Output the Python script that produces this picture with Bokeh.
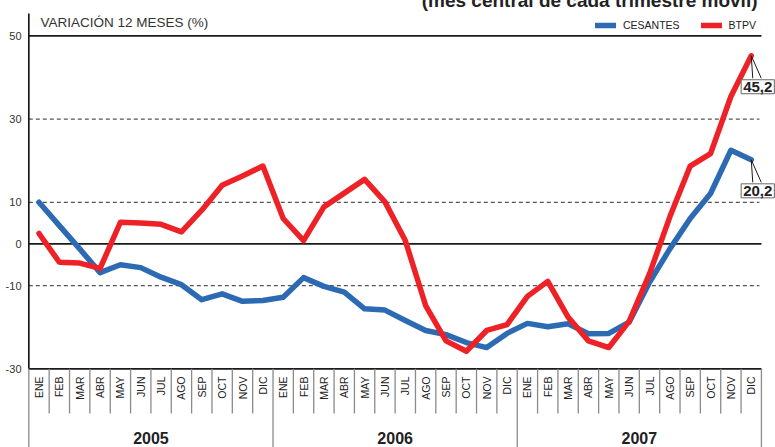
import math
from bokeh.plotting import figure
from bokeh.models import Range1d, Label, Legend, LegendItem
from bokeh.core.properties import value
from bokeh.embed import file_html
from bokeh.resources import INLINE

# ---------------- data ----------------
months = ["ENE", "FEB", "MAR", "ABR", "MAY", "JUN", "JUL", "AGO", "SEP", "OCT", "NOV", "DIC"]
years = ["2005", "2006", "2007"]
cesantes = [10.0, 4.4, -1.2, -6.9, -5.0, -5.7, -8.0, -9.8, -13.4, -12.0, -13.8, -13.6,
            -12.8, -8.1, -10.2, -11.6, -15.6, -15.9, -18.4, -20.8, -21.8, -23.7, -24.9, -21.5,
            -19.1, -19.9, -19.2, -21.6, -21.5, -18.8, -9.2, -1.2, 6.1, 12.1, 22.5, 20.2]
btpv = [2.5, -4.4, -4.6, -5.9, 5.2, 5.0, 4.7, 2.9, 8.1, 14.1, 16.3, 18.7,
        6.1, 0.8, 8.9, 12.2, 15.5, 10.1, 0.8, -14.8, -23.3, -25.8, -20.8, -19.4,
        -12.6, -9.0, -17.6, -23.3, -24.9, -18.6, -7.2, 6.5, 18.7, 21.7, 35.4, 45.2]
y_ticks = [50, 30, 10, 0, -10, -30]
solid_ticks = [50, 0, -30]
title = "VARIACIÓN 12 MESES (%)"
subtitle = "(mes central de cada trimestre móvil)"

# ---------------- layout ----------------
OFF = 8                     # canvas is pulled up/left by the page margin
SW, SH = 775, 447           # visible window
W, H = SW + OFF, SH + OFF   # canvas size
X0, STEP = 38.5, 20.35      # window px of first category centre, px per category
Y0, SCALE = 243.4, 4.1625   # window px of value 0, px per unit

def dx(px):
    return (px - X0) / STEP

def dy(py):
    return (Y0 - py) / SCALE

SANS_S = "'Liberation Sans', Arial, sans-serif"
SANS = value(SANS_S)

p = figure(width=W, height=H, output_backend="svg", toolbar_location=None,
           x_range=Range1d(dx(-OFF), dx(SW)), y_range=Range1d(dy(SH), dy(-OFF)),
           x_axis_location=None, y_axis_location=None, min_border=0)
p.margin = (-OFF, 0, -OFF, -OFF)
p.outline_line_color = None
p.grid.visible = False
p.background_fill_color = "white"
p.border_fill_color = "white"

n = len(cesantes)
xs = list(range(n))
left, right = -0.5, n - 0.5

# horizontal reference lines
for t in y_ticks:
    if t in solid_ticks:
        p.segment(x0=[left], x1=[right], y0=[t], y1=[t], line_color="#1a1a1a", line_width=1.7)
    else:
        p.segment(x0=[left], x1=[right - 0.1], y0=[t], y1=[t], line_color="#555555",
                  line_width=1.2, line_dash="4 3")

# y axis line
p.segment(x0=[left], x1=[left], y0=[y_ticks[-1]], y1=[dy(13)], line_color="#1a1a1a", line_width=1.7)

# tick labels
p.text(x=[dx(21)] * len(y_ticks), y=y_ticks, text=[str(t) for t in y_ticks],
       text_align="right", text_baseline="middle", text_font=SANS,
       text_font_size="11px", text_color="#333333")

# month / year separators
bottom = y_ticks[-1]
msep = [k - 0.5 for k in range(1, n) if k % 12]
ysep = [k - 0.5 for k in range(0, n + 1, 12)]
p.segment(x0=msep, x1=msep, y0=[bottom] * len(msep), y1=[dy(413)] * len(msep),
          line_color="#8a8a8a", line_width=1.3)
p.segment(x0=ysep, x1=ysep, y0=[bottom] * len(ysep), y1=[dy(SH)] * len(ysep),
          line_color="#8a8a8a", line_width=1.3)

# month labels
p.text(x=xs, y=[dy(376)] * n, text=months * len(years), angle=math.pi / 2,
       text_align="right", text_baseline="middle", text_font=SANS,
       text_font_size="10.5px", text_color="#222222")

# year labels
p.text(x=[12 * i + 5.5 for i in range(len(years))], y=[dy(437.5)] * len(years), text=years,
       text_align="center", text_baseline="middle", text_font=SANS, text_font_style="bold",
       text_font_size="16px", text_color="#222222")

# titles
p.text(x=[dx(40)], y=[dy(22)], text=[title], text_align="left", text_baseline="middle",
       text_font=SANS, text_font_size="13.5px", text_color="#333333")
p.text(x=[dx(757)], y=[dy(0)], text=[subtitle], text_align="right", text_baseline="alphabetic",
       text_font=SANS, text_font_style="bold", text_font_size="19px", text_color="#222222")

# series
r_ces = p.line(xs, cesantes, line_color="#2D6AB4", line_width=5.5, line_join="round", line_cap="round")
r_btp = p.line(xs, btpv, line_color="#EE2127", line_width=5.5, line_join="round", line_cap="round")

legend = Legend(items=[LegendItem(label="CESANTES", renderers=[r_ces]),
                       LegendItem(label="BTPV", renderers=[r_btp])],
                orientation="horizontal", location=(595 + OFF, SH - 31),
                glyph_width=21, glyph_height=10, label_standoff=7, spacing=21,
                padding=0, margin=0, border_line_color=None, background_fill_alpha=0,
                label_text_font=SANS_S, label_text_font_size="10.5px",
                label_text_color="#222222", label_height=10)
p.add_layout(legend)

# callouts for last values
for series in (cesantes, btpv):
    v = series[-1]
    drop = 22.5 / SCALE
    p.multi_line(xs=[[n - 1, n - 1 + 1.5 / STEP], [n - 1, n - 1 + 10 / STEP]],
                 ys=[[v, v - drop], [v, v - drop]], line_color="#1a1a1a", line_width=1)
    p.add_layout(Label(x=n - 1, y=v, x_offset=6.5, y_offset=-24,
                       text=f"{v:.1f}".replace(".", ","), text_align="center", text_baseline="top",
                       text_font=SANS_S, text_font_style="bold", text_font_size="15px",
                       text_color="#222222", background_fill_color="white",
                       border_line_color="#666666", border_line_width=1, padding=2))

open("out.html", "w").write(file_html(p, INLINE))
